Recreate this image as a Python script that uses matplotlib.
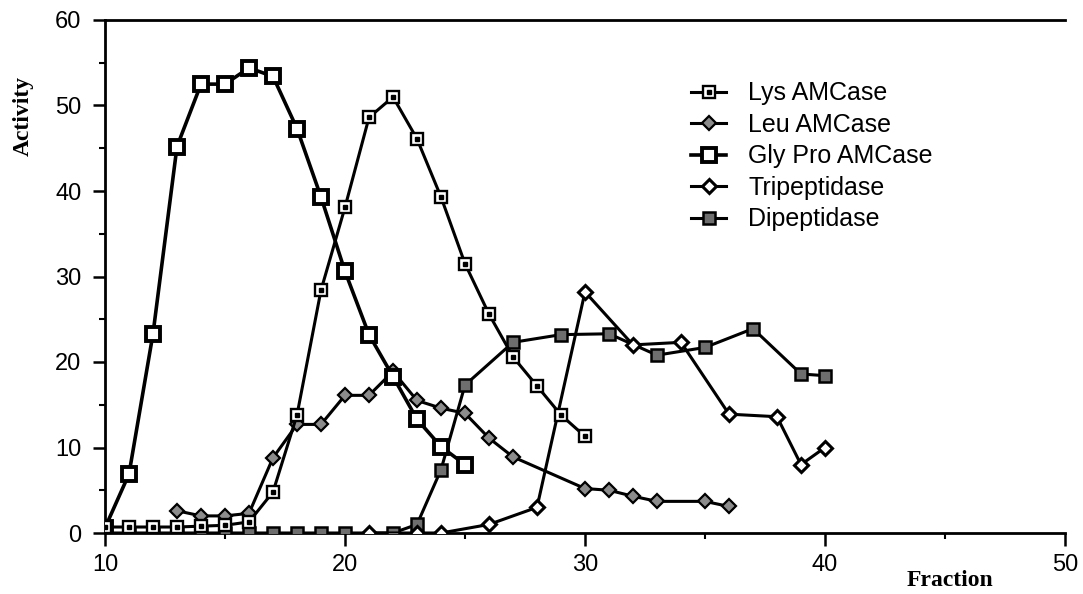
import matplotlib
matplotlib.use("Agg")
import matplotlib.pyplot as plt
from matplotlib.legend_handler import HandlerTuple
from matplotlib.ticker import MultipleLocator

# ---- data ----
lys_x = [10, 11, 12, 13, 14, 15, 16, 17, 18, 19, 20, 21, 22, 23, 24, 25, 26, 27, 28, 29, 30]
lys_y = [0.7, 0.7, 0.7, 0.7, 0.8, 0.9, 1.3, 4.8, 13.8, 28.4, 38.1, 48.6, 51.0, 46.1, 39.3, 31.5, 25.6, 20.6, 17.2, 13.8, 11.3]

leu_x = [13, 14, 15, 16, 17, 18, 19, 20, 21, 22, 23, 24, 25, 26, 27, 30, 31, 32, 33, 35, 36]
leu_y = [2.6, 2.0, 2.0, 2.3, 8.8, 12.7, 12.7, 16.1, 16.1, 18.9, 15.5, 14.6, 14.0, 11.1, 8.9, 5.2, 5.0, 4.3, 3.7, 3.7, 3.1]

gly_x = [10, 11, 12, 13, 14, 15, 16, 17, 18, 19, 20, 21, 22, 23, 24, 25]
gly_y = [0.6, 6.9, 23.3, 45.2, 52.5, 52.5, 54.4, 53.4, 47.3, 39.3, 30.6, 23.2, 18.3, 13.3, 10.1, 8.0]

tri_x = [21, 23, 24, 26, 28, 30, 32, 34, 36, 38, 39, 40]
tri_y = [0.0, 0.0, 0.0, 1.0, 3.0, 28.2, 22.0, 22.3, 13.9, 13.6, 8.0, 10.0]

dip_x = [10, 11, 12, 13, 14, 15, 16, 17, 18, 19, 20, 22, 23, 24, 25, 27, 29, 31, 33, 35, 37, 39, 40]
dip_y = [0.0, 0.0, 0.0, 0.0, 0.0, 0.0, 0.0, 0.0, 0.0, 0.0, 0.0, 0.0, 1.0, 7.4, 17.3, 22.3, 23.2, 23.3, 20.8, 21.7, 23.9, 18.6, 18.4]

labels = ["Lys AMCase", "Leu AMCase", "Gly Pro AMCase", "Tripeptidase", "Dipeptidase"]
x_ticks = [10, 20, 30, 40, 50]
y_ticks = [0, 10, 20, 30, 40, 50, 60]

sans = ["Liberation Sans", "DejaVu Sans"]
serif = ["Liberation Serif", "DejaVu Serif"]

fig = plt.figure(figsize=(10.83, 5.94), dpi=100)
ax = fig.add_axes([105 / 1083, 1 - 533 / 594, 960 / 1083, 513 / 594])

lw = 2.2
# Dipeptidase
h_dip, = ax.plot(dip_x, dip_y, color="black", lw=lw, marker="s", ms=8.5,
                 mfc="#6e6e6e", mec="black", mew=1.8, zorder=3)
# Tripeptidase
h_tri, = ax.plot(tri_x, tri_y, color="black", lw=lw, marker="D", ms=7.5,
                 mfc="white", mec="black", mew=2.2, zorder=3)
# Leu
h_leu, = ax.plot(leu_x, leu_y, color="black", lw=lw, marker="D", ms=7.5,
                 mfc="#8c8c8c", mec="black", mew=1.6, zorder=4)
# Gly Pro
h_gly, = ax.plot(gly_x, gly_y, color="black", lw=lw + 0.4, marker="s", ms=9.5,
                 mfc="white", mec="black", mew=2.8, zorder=4)
# Lys
h_lys, = ax.plot(lys_x, lys_y, color="black", lw=lw, marker="s", ms=8.5,
                 mfc="white", mec="black", mew=1.7, zorder=5)
h_lysd, = ax.plot(lys_x, lys_y, ls="none", marker="s", ms=2.2,
                  mfc="black", mec="black", zorder=6)

ax.set_xlim(10, 50)
ax.set_ylim(0, 60)
ax.set_xticks(x_ticks)
ax.set_yticks(y_ticks)
ax.xaxis.set_minor_locator(MultipleLocator(5))
ax.yaxis.set_minor_locator(MultipleLocator(5))
ax.set_xticklabels([str(v) for v in x_ticks], fontfamily=sans, fontsize=17)
ax.set_yticklabels([str(v) for v in y_ticks], fontfamily=sans, fontsize=17)
ax.tick_params(which="major", direction="out", length=9, width=1.8, pad=6)
ax.tick_params(which="minor", direction="out", length=4.5, width=1.5)
ax.tick_params(axis="y", which="major", pad=8)

for side in ["left", "bottom", "top"]:
    ax.spines[side].set_linewidth(2.0)
ax.spines["right"].set_visible(False)

fig.text(23 / 1083, 1 - 116 / 594, "Activity", rotation=90, ha="center", va="center",
         fontfamily=serif, fontsize=17, fontweight="bold")
fig.text(950 / 1083, 1 - 580 / 594, "Fraction", ha="center", va="center",
         fontfamily=serif, fontsize=17, fontweight="bold")

leg = ax.legend([(h_lys, h_lysd), h_leu, h_gly, h_tri, h_dip], labels,
                handler_map={tuple: HandlerTuple(ndivide=1)},
                loc="upper left", bbox_to_anchor=(0.6, 0.9), frameon=False,
                prop={"family": sans, "size": 18}, handlelength=1.4,
                handletextpad=0.9, labelspacing=0.3, borderaxespad=0)

fig.savefig("out.png", dpi=100, facecolor="white")
